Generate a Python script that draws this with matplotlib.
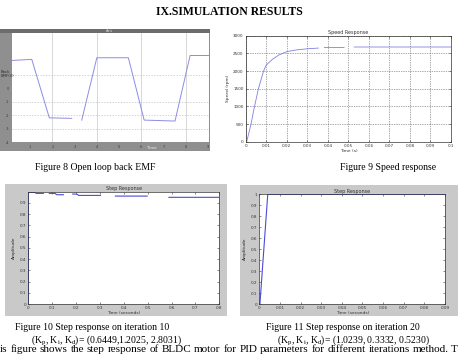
"""Simulation results page: back EMF, speed response and two PID step responses."""

import matplotlib.pyplot as plt
import numpy as np
from matplotlib.patches import Rectangle

W, H = 459, 355
nan = np.nan

# Figure 8: open loop back EMF (scope units)
emf_t = [0.18, 1.07, 1.86, 2.87, nan, 3.32, 4.0, 5.42, 6.13, 7.52, 8.2, 9.05]
emf_v = [2.07, 2.15, -2.2, -2.24, nan, -2.37, 2.27, 2.27, -2.37, -2.44, 2.44, 2.44]
emf_ticks = [1, 2, 3, 4, 5, 6, 7, 8, 9]
emf_tick_labels = ["1", "2", "3", "4", "5", "6", "7", "8", "9"]
emf_yticks = [-4, -3, -2, -1, 0]
emf_ytick_labels = ["-4", "-3", "-2", "-1", "0"]

# Figure 9: speed response
speed_t = [0, 0.0005, 0.0026, 0.0043, 0.0062, 0.0087, 0.010, 0.013, 0.016, 0.020,
           0.025, 0.030, 0.0354, nan, 0.0383, 0.0479, nan, 0.0529, 0.07, 0.10]
speed_v = [0, 0, 500, 1000, 1500, 2000, 2170, 2330, 2450, 2550,
           2600, 2630, 2650, nan, 2665, 2665, nan, 2680, 2680, 2680]

# Figure 10: step response, iteration 10
step10_t = [0, 0, 0.004, 0.028, nan, 0.032, 0.063, nan, 0.088, 0.112, 0.119, 0.147, nan,
            0.186, 0.203, 0.211, 0.302, nan, 0.365, 0.498, nan, 0.589, 0.80]
step10_y = [0, 0.994, 0.994, 0.994, nan, 0.985, 0.985, nan, 0.985, 0.985, 0.973, 0.973, nan,
            0.979, 0.979, 0.967, 0.967, nan, 0.961, 0.961, nan, 0.950, 0.950]

# Figure 11: step response, iteration 20
step20_t = [0, 0.0003, 0.0041, 0.09]
step20_y = [0, 0, 1.0, 1.0]

captions = [
    ("Figure 8 Open loop back EMF", 95, 167),
    ("Figure 9 Speed response", 388, 167),
    ("Figure 10 Step response on iteration 10", 92, 327),
    ("(K$\\mathregular{_p}$, K$\\mathregular{_i}$, K$\\mathregular{_d}$)= (0.6449,1.2025, 2.8031)", 106, 340),
    ("Figure 11 Step response on iteration 20", 343, 327),
    ("(K$\\mathregular{_p}$, K$\\mathregular{_i}$, K$\\mathregular{_d}$)= (1.0239, 0.3332, 0.5230)", 354, 340),
]
body_words = ("is figure shows the step response of BLDC motor for PID parameters "
              "for different iterations method. T").split()

plt.rcParams["font.family"] = ["DejaVu Sans"]
SERIF = ["Liberation Serif", "DejaVu Serif"]

fig = plt.figure(figsize=(W / 100, H / 100), dpi=100)
fig.patch.set_facecolor("white")


def box(x0, y0, x1, y1):
    return [x0 / W, 1 - y1 / H, (x1 - x0) / W, (y1 - y0) / H]


def rect(x0, y0, x1, y1, color):
    fig.add_artist(Rectangle((x0 / W, 1 - y1 / H), (x1 - x0) / W, (y1 - y0) / H,
                             transform=fig.transFigure, color=color, lw=0, zorder=0))


def matlab_axes(ax, xlim, ylim, xticks, yticks, xlabels, ylabels):
    ax.set_xlim(*xlim)
    ax.set_ylim(*ylim)
    ax.set_xticks(xticks, xlabels)
    ax.set_yticks(yticks, ylabels)
    ax.tick_params(labelsize=3, length=1.5, width=0.4, pad=1.5, direction="in",
                   top=True, right=True, colors="#333333")
    for s in ax.spines.values():
        s.set_linewidth(0.5)
        s.set_color("#333333")


# ---- Figure 8 (Simulink scope)
rect(0, 29, 210, 151, "#8f8f8f")
rect(0, 29, 210, 32.5, "#6c6c6c")
fig.text(110 / W, 1 - 30.5 / H, "Axis", fontsize=2.5, color="#dddddd", ha="center", va="center")
ax1 = fig.add_axes(box(12, 32.5, 209, 142))
ax1.plot(emf_t, emf_v, color="#8c8ce6", lw=0.7)
ax1.set_xlim(0.18, 9.05)
ax1.set_ylim(-4, 4.15)
ax1.set_xticks(emf_ticks, emf_tick_labels)
ax1.set_yticks(emf_yticks, emf_ytick_labels)
ax1.tick_params(labelsize=2.5, length=0, pad=2, colors="#3a3a3a")
for x in [2, 4, 6, 8]:
    ax1.axvline(x, color="#c8c8c8", lw=0.5, zorder=0)
for y in [-3, -2, -1, 1]:
    ax1.axhline(y, color="#c0c0c0", lw=0.5, ls=(0, (2, 2)), zorder=0)
for s in ax1.spines.values():
    s.set_visible(False)
fig.text(1 / W, 1 - 74 / H, "Back\nEMF(V)", fontsize=2.8, color="#303030", va="center",
         linespacing=1.1)
fig.text(152 / W, 1 - 148 / H, "Time", fontsize=2.8, color="#f0f0f0", ha="center", va="center")

# ---- Figure 9 (speed response)
ax2 = fig.add_axes(box(245.7, 35.7, 451, 141.7))
ax2.plot(speed_t, speed_v, color="#8080e0", lw=0.6)
xt = np.round(np.arange(0, 0.101, 0.01), 2)
matlab_axes(ax2, (0, 0.1), (0, 3000), xt, [0, 500, 1000, 1500, 2000, 2500, 3000],
            ["0", "0.01", "0.02", "0.03", "0.04", "0.05", "0.06", "0.07", "0.08", "0.09", "0.1"],
            ["0", "500", "1000", "1500", "2000", "2500", "3000"])
ax2.grid(True, color="#555555", lw=0.5, ls=(0, (1, 1.5)))
ax2.set_title("Speed Response", fontsize=3.5, pad=1.5, color="#333333")
ax2.set_xlabel("Time (s)", fontsize=3.2, labelpad=1, color="#333333")
ax2.set_ylabel("Speed (rpm)", fontsize=3.2, labelpad=2, color="#333333")

# ---- Figure 10 (step response, iteration 10)
rect(5, 184, 227, 316, "#c9c9c9")
ax3 = fig.add_axes(box(28.3, 191.7, 219.3, 304))
ax3.plot(step10_t, step10_y, color="#4a4ad8", lw=0.8)
matlab_axes(ax3, (0, 0.8), (0, 1.0), np.round(np.arange(0, 0.81, 0.1), 1),
            np.round(np.arange(0, 0.91, 0.1), 1),
            ["0", "0.1", "0.2", "0.3", "0.4", "0.5", "0.6", "0.7", "0.8"],
            ["0", "0.1", "0.2", "0.3", "0.4", "0.5", "0.6", "0.7", "0.8", "0.9"])
ax3.set_title("Step Response", fontsize=3.5, pad=1, color="#333333")
ax3.set_xlabel("Time (seconds)", fontsize=3.2, labelpad=1, color="#333333")
ax3.set_ylabel("Amplitude", fontsize=3.2, labelpad=3, color="#222222")

# ---- Figure 11 (step response, iteration 20)
rect(240, 185, 457.7, 316, "#c9c9c9")
ax4 = fig.add_axes(box(259.3, 194.3, 445, 304))
ax4.plot(step20_t, step20_y, color="#4a4ad8", lw=0.8)
matlab_axes(ax4, (0, 0.09), (0, 1.0), np.round(np.arange(0, 0.091, 0.01), 2),
            np.round(np.arange(0, 1.01, 0.1), 1),
            ["0", "0.01", "0.02", "0.03", "0.04", "0.05", "0.06", "0.07", "0.08", "0.09"],
            ["0", "0.1", "0.2", "0.3", "0.4", "0.5", "0.6", "0.7", "0.8", "0.9", "1"])
ax4.set_title("Step Response", fontsize=3.5, pad=1, color="#333333")
ax4.set_xlabel("Time (seconds)", fontsize=3.2, labelpad=1, color="#333333")
ax4.set_ylabel("Amplitude", fontsize=3.2, labelpad=3, color="#222222")

# ---- page text
fig.text(229 / W, 1 - 12 / H, "IX.SIMULATION RESULTS", family=SERIF, fontweight="bold",
         fontsize=8.5, ha="center", va="center")
for text, x, y in captions:
    fig.text(x / W, 1 - y / H, text, family=SERIF, fontsize=7, ha="center", va="center")

# justified body line along the bottom edge
renderer = fig.canvas.get_renderer()
word_objs = [fig.text(0, 1 - 354.5 / H, w, family=SERIF, fontsize=8, ha="left", va="bottom")
             for w in body_words]
widths = [t.get_window_extent(renderer).width for t in word_objs]
gap = (W - 1 - sum(widths)) / (len(body_words) - 1)
xpos = 0.0
for t, wd in zip(word_objs, widths):
    t.set_x(xpos / W)
    xpos += wd + gap

fig.savefig("out.png", dpi=100)
